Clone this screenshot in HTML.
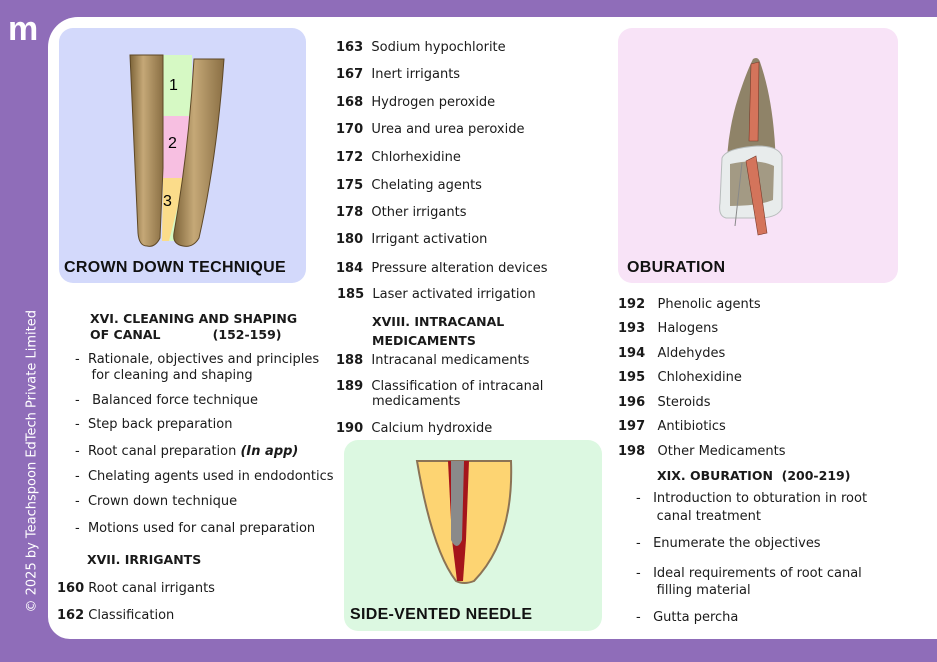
<!DOCTYPE html>
<html><head><meta charset="utf-8"><style>
body{margin:0;width:937px;height:662px;background:#8f6db9;position:relative;overflow:hidden;font-family:"DejaVu Sans","Liberation Sans",sans-serif;color:#1a1a1a}
.card{position:absolute;left:48px;top:17px;width:900px;height:622px;background:#fff;border-radius:30px 0 0 22px}
.t{position:absolute;font-size:13px;white-space:nowrap}
.b{font-weight:bold}
.h{position:absolute;font-weight:bold;font-size:12.5px;white-space:nowrap}
.cap{position:absolute;font-family:"Liberation Sans",sans-serif;font-weight:900;font-size:16px;color:#111;letter-spacing:0.3px}
.panel{position:absolute;border-radius:14px}
</style></head><body>
<div class="card"></div>
<div style="position:absolute;left:8px;top:14px;font-family:'Liberation Sans',sans-serif;font-weight:bold;font-size:34px;color:#fff;line-height:30px">m</div>
<div style="position:absolute;left:-118px;top:455px;transform:rotate(-90deg);color:#fff;font-size:13px;white-space:nowrap;width:300px">© 2025 by Teachspoon EdTech Private Limited</div>

<div class="panel" style="left:59px;top:28px;width:247px;height:255px;background:#d3d9fb"></div>
<svg style="position:absolute;left:59px;top:28px" width="247" height="255">
<defs><linearGradient id="g" x1="0" x2="1"><stop offset="0" stop-color="#7d6439"/><stop offset=".4" stop-color="#c5a877"/><stop offset="1" stop-color="#8a6f44"/></linearGradient></defs>
<polygon points="104,27 133,27 133,140 117,213 105,213 104,140" fill="#d6f9c4"/>
<polygon points="103,88 130,88 126,150 104,150" fill="#f7bfe1"/>
<polygon points="104,150 126,150 110,213 103,213" fill="#fbdc8a"/>
<path d="M71,27 L104,27 L104,140 L101,210 Q96,220 88,218 Q80,218 79,205 Q75,120 71,27Z" fill="url(#g)" stroke="#5e4826" stroke-width="1"/>
<path d="M135,31 L165,31 Q158,130 140,210 Q134,220 124,218 Q113,216 115,205 Q130,120 135,31Z" fill="url(#g)" stroke="#5e4826" stroke-width="1"/>
<text x="110" y="62" font-size="16" font-family="Liberation Sans">1</text>
<text x="109" y="120" font-size="16" font-family="Liberation Sans">2</text>
<text x="104" y="178" font-size="16" font-family="Liberation Sans">3</text>
</svg>
<div class="cap" style="left:64px;top:259px">CROWN DOWN TECHNIQUE</div>

<div class="panel" style="left:618px;top:28px;width:280px;height:255px;background:#f8e3f7"></div>
<svg style="position:absolute;left:618px;top:28px" width="280" height="255">
<path d="M135,31 Q140,28 142,34 Q158,80 158,150 L156,185 L110,185 Q104,120 120,70 Q128,45 135,31Z" fill="#8f8368"/>
<path d="M104,130 Q108,120 140,118 Q160,118 164,128 L164,180 Q160,190 140,190 L108,190 Q100,188 102,175Z" fill="#e8ecec" stroke="#b7bcbc"/>
<path d="M112,136 Q140,130 156,138 L155,172 Q140,178 112,178Z" fill="#a39a84"/>
<path d="M133,36 L141,34 L140,113 L131,113Z" fill="#d4745b" stroke="#7a3a2a" stroke-width=".6"/>
<path d="M128,133 L138,128 L149,205 L140,207Z" fill="#d4745b" stroke="#7a3a2a" stroke-width=".6"/>
<line x1="124" y1="135" x2="117" y2="198" stroke="#888"/>
</svg>
<div class="cap" style="left:627px;top:259px">OBURATION</div>

<div class="panel" style="left:344px;top:440px;width:258px;height:191px;background:#dcf8e1"></div>
<svg style="position:absolute;left:344px;top:440px" width="258" height="191">
<path d="M73,21 L167,21 Q170,100 130,141 Q120,145 112,141 Q88,110 73,21Z" fill="#fdd472" stroke="#8b7355" stroke-width="2"/>
<path d="M104,21 L125,21 L122,100 L119,141 L113,141 L108,100Z" fill="#a5151b"/>
<path d="M107,21 L120,21 L118,100 Q113,112 107,100Z" fill="#8a8a8a"/>
</svg>
<div class="cap" style="left:350px;top:606px">SIDE-VENTED NEEDLE</div>

<div class="t" style="left:336px;top:40px"><span class="b">163</span>&nbsp; Sodium hypochlorite</div>
<div class="t" style="left:336px;top:67px"><span class="b">167</span>&nbsp; Inert irrigants</div>
<div class="t" style="left:336px;top:95px"><span class="b">168</span>&nbsp; Hydrogen peroxide</div>
<div class="t" style="left:336px;top:122px"><span class="b">170</span>&nbsp; Urea and urea peroxide</div>
<div class="t" style="left:336px;top:150px"><span class="b">172</span>&nbsp; Chlorhexidine</div>
<div class="t" style="left:336px;top:178px"><span class="b">175</span>&nbsp; Chelating agents</div>
<div class="t" style="left:336px;top:205px"><span class="b">178</span>&nbsp; Other irrigants</div>
<div class="t" style="left:336px;top:232px"><span class="b">180</span>&nbsp; Irrigant activation</div>
<div class="t" style="left:336px;top:261px"><span class="b">184</span>&nbsp; Pressure alteration devices</div>
<div class="t" style="left:337px;top:287px"><span class="b">185</span>&nbsp; Laser activated irrigation</div>
<div class="h" style="left:372px;top:312px;line-height:19px">XVIII. INTRACANAL<br>MEDICAMENTS</div>
<div class="t" style="left:336px;top:353px"><span class="b">188</span>&nbsp; Intracanal medicaments</div>
<div class="t" style="left:336px;top:380px;line-height:14px"><span class="b">189</span>&nbsp; Classification of intracanal</div>
<div class="t" style="left:372px;top:394px">medicaments</div>
<div class="t" style="left:336px;top:421px"><span class="b">190</span>&nbsp; Calcium hydroxide</div>

<div class="h" style="left:90px;top:311px;line-height:16px">XVI. CLEANING AND SHAPING<br>OF CANAL&nbsp;&nbsp;&nbsp;&nbsp;&nbsp;&nbsp;&nbsp;&nbsp;&nbsp;&nbsp;&nbsp; (152-159)</div>
<div class="t" style="left:75px;top:352px;line-height:16px">-&nbsp; Rationale, objectives and principles<br>&nbsp;&nbsp;&nbsp; for cleaning and shaping</div>
<div class="t" style="left:75px;top:393px">-&nbsp;&nbsp; Balanced force technique</div>
<div class="t" style="left:75px;top:417px">-&nbsp; Step back preparation</div>
<div class="t" style="left:75px;top:444px">-&nbsp; Root canal preparation <b><i>(In app)</i></b></div>
<div class="t" style="left:75px;top:469px">-&nbsp; Chelating agents used in endodontics</div>
<div class="t" style="left:75px;top:494px">-&nbsp; Crown down technique</div>
<div class="t" style="left:75px;top:521px">-&nbsp; Motions used for canal preparation</div>
<div class="h" style="left:87px;top:552px">XVII. IRRIGANTS</div>
<div class="t" style="left:57px;top:581px"><span class="b">160</span> Root canal irrigants</div>
<div class="t" style="left:57px;top:608px"><span class="b">162</span> Classification</div>

<div class="t" style="left:618px;top:297px"><span class="b">192</span>&nbsp;&nbsp; Phenolic agents</div>
<div class="t" style="left:618px;top:321px"><span class="b">193</span>&nbsp;&nbsp; Halogens</div>
<div class="t" style="left:618px;top:346px"><span class="b">194</span>&nbsp;&nbsp; Aldehydes</div>
<div class="t" style="left:618px;top:370px"><span class="b">195</span>&nbsp;&nbsp; Chlohexidine</div>
<div class="t" style="left:618px;top:395px"><span class="b">196</span>&nbsp;&nbsp; Steroids</div>
<div class="t" style="left:618px;top:419px"><span class="b">197</span>&nbsp;&nbsp; Antibiotics</div>
<div class="t" style="left:618px;top:444px"><span class="b">198</span>&nbsp;&nbsp; Other Medicaments</div>
<div class="h" style="left:657px;top:468px">XIX. OBURATION&nbsp; (200-219)</div>
<div class="t" style="left:636px;top:490px;line-height:18px">-&nbsp;&nbsp; Introduction to obturation in root<br>&nbsp;&nbsp;&nbsp;&nbsp; canal treatment</div>
<div class="t" style="left:636px;top:536px">-&nbsp;&nbsp; Enumerate the objectives</div>
<div class="t" style="left:636px;top:565px;line-height:17px">-&nbsp;&nbsp; Ideal requirements of root canal<br>&nbsp;&nbsp;&nbsp;&nbsp; filling material</div>
<div class="t" style="left:636px;top:610px">-&nbsp;&nbsp; Gutta percha</div>
</body></html>
